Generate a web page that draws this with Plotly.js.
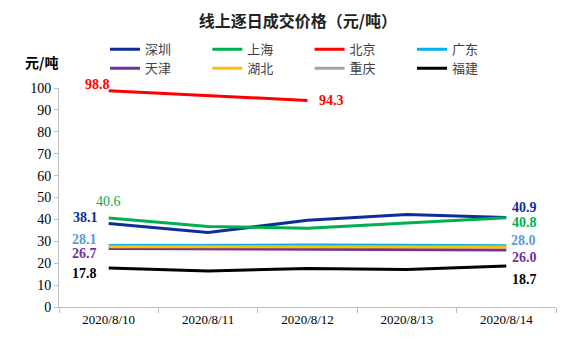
<!DOCTYPE html>
<html>
<head>
<meta charset="utf-8">
<script src="https://cdn.plot.ly/plotly-3.0.1.min.js"></script>
<style>html,body{margin:0;padding:0;background:#fff;}#chart{width:575px;height:351px;}</style>
</head>
<body>
<div id="chart"></div>
<script>
const dates = ["2020/8/10", "2020/8/11", "2020/8/12", "2020/8/13", "2020/8/14"];
const seriesNames = ["深圳", "上海", "北京", "广东", "天津", "湖北", "重庆", "福建"];
const shenzhen = [38.1, 34.0, 39.6, 42.2, 40.9];
const shanghai = [40.6, 36.8, 36.0, 38.4, 40.8];
const beijing = [98.8, 96.5, 94.3, null, null];
const guangdong = [28.1, 28.3, 28.3, 28.2, 28.0];
const tianjin = [26.7, 26.6, 26.4, 26.2, 26.0];
const hubei = [27.5, 27.5, 27.5, 27.4, 27.4];
const chongqing = [null, null, null, null, null];
const fujian = [17.8, 16.4, 17.6, 17.1, 18.7];
const yTicks = [0, 10, 20, 30, 40, 50, 60, 70, 80, 90, 100];

const colors = ["#0D2E9A", "#00B050", "#FF0000", "#00B0F0", "#7030A0", "#FFC000", "#A5A5A5", "#000000"];
const allData = [shenzhen, shanghai, beijing, guangdong, tianjin, hubei, chongqing, fujian];

const legendIds = allData.map((_, i) => i === 0 ? "legend" : "legend" + (i + 1));

const traces = allData.map((vals, i) => ({
  type: "scatter",
  mode: "lines",
  name: seriesNames[i],
  legend: legendIds[i],
  x: dates,
  y: vals,
  line: {color: colors[i], width: 3},
  connectgaps: false,
  hoverinfo: "skip"
}));

const lbl = (arr, idx, color, xanchor, xshift, yshift, bold) => ({
  x: dates[idx], y: arr[idx], xref: "x", yref: "y",
  text: bold ? "<b>" + arr[idx].toFixed(1) + "</b>" : arr[idx].toFixed(1),
  showarrow: false, xanchor: xanchor, yanchor: "middle",
  xshift: xshift, yshift: yshift,
  font: {family: "Liberation Serif, Times New Roman, serif", size: 14, color: color}
});

const annotations = [
  lbl(beijing, 0, "#FF0000", "center", -11, 6, true),
  lbl(beijing, 2, "#FF0000", "left", 9, 0, true),
  lbl(shanghai, 0, "#00B050", "center", 0, 17, false),
  lbl(shenzhen, 0, "#0D2E9A", "right", -9, 6, true),
  lbl(guangdong, 0, "#5B9BD5", "right", -10, 5.5, true),
  lbl(tianjin, 0, "#7030A0", "right", -10, -5, true),
  lbl(fujian, 0, "#000000", "right", -10, -5.5, true),
  lbl(shenzhen, 4, "#0D2E9A", "left", 4, 9.5, true),
  lbl(shanghai, 4, "#00B050", "left", 4, -4.5, true),
  lbl(guangdong, 4, "#5B9BD5", "left", 3, 5, true),
  lbl(tianjin, 4, "#7030A0", "left", 4, -7.5, true),
  lbl(fujian, 4, "#000000", "left", 4, -13.5, true),
  {
    text: "<b>元/吨</b>", xref: "paper", yref: "paper", x: -0.036, y: 1.12,
    xanchor: "center", yanchor: "middle", showarrow: false,
    font: {family: "Noto Sans CJK SC, sans-serif", size: 14, color: "#000"}
  }
];

const layout = {
  width: 575, height: 351,
  margin: {l: 59, r: 19, t: 88, b: 44},
  paper_bgcolor: "#fff", plot_bgcolor: "#fff",
  showlegend: true,
  title: {
    text: "<b>线上逐日成交价格（元/吨）</b>",
    x: 0.518, xref: "container", xanchor: "center",
    y: 0.938, yref: "container", yanchor: "middle",
    font: {family: "Noto Sans CJK SC, sans-serif", size: 16, color: "#222"}
  },
  xaxis: {
    type: "category",
    range: [-0.5, 4.5],
    tickvals: dates, ticktext: dates,
    showgrid: false, zeroline: false,
    showline: true, linecolor: "#BFBFBF", linewidth: 1,
    ticks: "outside", tickson: "boundaries", ticklen: 5, tickcolor: "#BFBFBF",
    tickfont: {family: "Liberation Serif, Times New Roman, serif", size: 13, color: "#000"},
    fixedrange: true
  },
  yaxis: {
    range: [0, 100],
    tickvals: yTicks,
    showgrid: false, zeroline: false,
    showline: true, linecolor: "#BFBFBF", linewidth: 1,
    ticks: "outside", ticklen: 4, tickcolor: "#BFBFBF",
    tickfont: {family: "Liberation Serif, Times New Roman, serif", size: 14, color: "#000"},
    fixedrange: true
  },
  annotations: annotations
};

// legend grid: 4 columns x 2 rows, one legend box per series
const legendColX = [0.0926, 0.2984, 0.5042, 0.7103];
const legendRowY = [1.2454, 1.1587];
legendIds.forEach((id, i) => {
  layout[id] = {
    orientation: "h",
    x: legendColX[i % 4], xanchor: "left",
    y: legendRowY[Math.floor(i / 4)], yanchor: "top",
    font: {family: "Noto Sans CJK SC, sans-serif", size: 13, color: "#404040"},
    bgcolor: "rgba(0,0,0,0)",
    borderwidth: 0
  };
});

Plotly.newPlot("chart", traces, layout, {displayModeBar: false, staticPlot: true});
</script>
</body>
</html>
